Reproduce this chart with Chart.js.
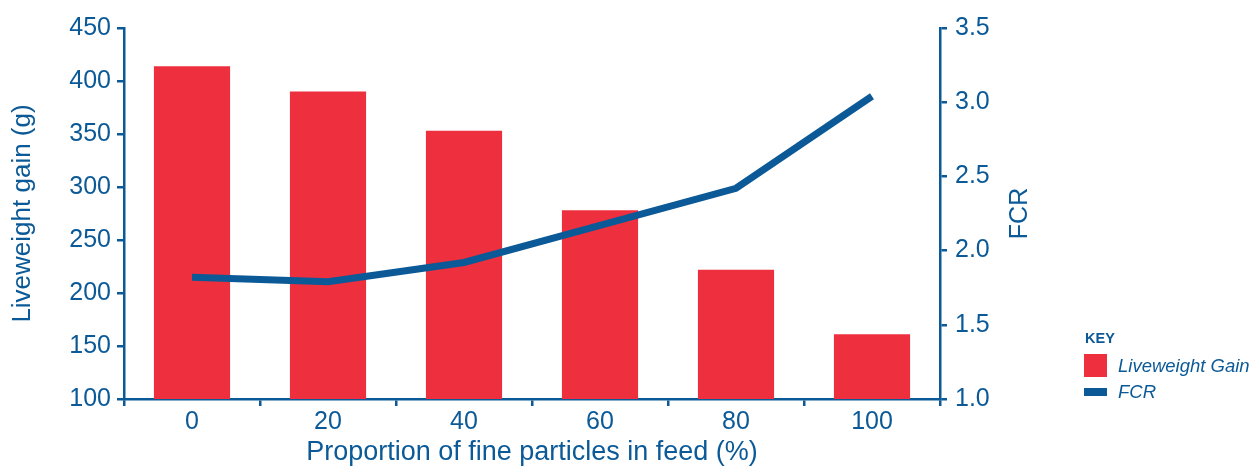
<!DOCTYPE html>
<html>
<head>
<meta charset="utf-8">
<script src="https://cdn.jsdelivr.net/npm/chart.js@4/dist/chart.umd.min.js"></script>
<style>
  html, body { margin: 0; padding: 0; background: #fff; }
  #wrap { position: relative; width: 1252px; height: 466px; }
  #c { position: absolute; left: 0; top: 0; }
  .lg { position: absolute; font-family: "Liberation Sans", Arial, sans-serif; color: #0b5a97; white-space: nowrap; }
</style>
</head>
<body>
<div id="wrap">
  <canvas id="c" width="1252" height="466"></canvas>
  <div class="lg" style="left:1085px;top:328px;font-size:14.5px;line-height:20px;font-weight:bold;">KEY</div>
  <div class="lg" style="left:1084px;top:354px;width:23px;height:23px;background:#ee2f3e;"></div>
  <div class="lg" style="left:1118px;top:355px;font-size:18.5px;line-height:22px;font-style:italic;">Liveweight Gain</div>
  <div class="lg" style="left:1084px;top:388px;width:23px;height:8px;background:#0b5a97;"></div>
  <div class="lg" style="left:1118px;top:381px;font-size:18.5px;line-height:22px;font-style:italic;">FCR</div>
</div>
<script>
const categories = ['0', '20', '40', '60', '80', '100'];
const liveweightGain = [414, 390, 353, 278, 222, 161];
const fcr = [1.82, 1.79, 1.92, 2.17, 2.42, 3.04];

const BLUE = '#0b5a97';
const RED = '#ee2f3e';
const FONT = 'Liberation Sans';

const rightTitle = {
  id: 'rightTitle',
  afterDraw(chart) {
    const ctx = chart.ctx;
    const area = chart.chartArea;
    ctx.save();
    ctx.fillStyle = BLUE;
    ctx.font = '25px "' + FONT + '"';
    ctx.textAlign = 'center';
    ctx.textBaseline = 'middle';
    ctx.translate(1020, (area.top + area.bottom) / 2);
    ctx.rotate(-Math.PI / 2);
    ctx.fillText('FCR', 0, 0);
    ctx.restore();
  }
};

new Chart(document.getElementById('c'), {
  data: {
    labels: categories,
    datasets: [
      {
        type: 'line',
        label: 'FCR',
        data: fcr,
        yAxisID: 'y1',
        borderColor: BLUE,
        borderWidth: 7,
        pointRadius: 0,
        tension: 0,
        fill: false,
        order: 0
      },
      {
        type: 'bar',
        label: 'Liveweight Gain',
        data: liveweightGain,
        yAxisID: 'y',
        backgroundColor: RED,
        categoryPercentage: 1,
        barPercentage: 0.56,
        order: 1
      }
    ]
  },
  options: {
    responsive: false,
    animation: false,
    layout: { padding: { top: 28, left: 0, right: 0, bottom: 0 } },
    plugins: { legend: { display: false }, tooltip: { enabled: false } },
    scales: {
      x: {
        offset: true,
        grid: { offset: true, drawOnChartArea: false, color: BLUE, lineWidth: 2.5, tickLength: 7 },
        border: { color: BLUE, width: 2.5 },
        ticks: { color: BLUE, font: { family: FONT, size: 25 }, padding: 1, maxRotation: 0 },
        title: { display: true, text: 'Proportion of fine particles in feed (%)', color: BLUE,
                 font: { family: FONT, size: 27, lineHeight: 1.0 }, padding: 0 },
        afterFit(s) { s.height = 67; }
      },
      y: {
        position: 'left',
        min: 100, max: 450,
        ticks: { stepSize: 50, color: BLUE, font: { family: FONT, size: 25 }, padding: 6 },
        grid: { drawOnChartArea: false, color: BLUE, lineWidth: 2.5, tickLength: 7 },
        border: { color: BLUE, width: 2.5 },
        title: { display: true, text: 'Liveweight gain (g)', color: BLUE,
                 font: { family: FONT, size: 26, lineHeight: 1.2 }, padding: { top: 7, bottom: 0 } },
        afterFit(s) { s.width = 124; }
      },
      y1: {
        position: 'right',
        min: 1, max: 3.5,
        ticks: { stepSize: 0.5, color: BLUE, font: { family: FONT, size: 25 }, padding: 8,
                 callback: v => Number(v).toFixed(1) },
        grid: { drawOnChartArea: false, color: BLUE, lineWidth: 2.5, tickLength: 7 },
        border: { color: BLUE, width: 2.5 },
        afterFit(s) { s.width = 312; }
      }
    }
  },
  plugins: [rightTitle]
});
</script>
</body>
</html>
